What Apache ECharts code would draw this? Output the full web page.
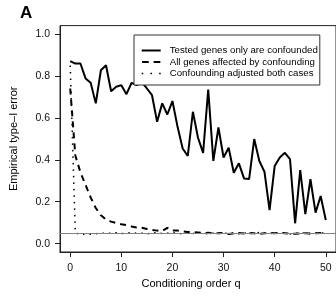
<!DOCTYPE html>
<html>
<head>
<meta charset="utf-8">
<script src="https://cdn.jsdelivr.net/npm/echarts@6/dist/echarts.min.js"></script>
<style>html,body{margin:0;padding:0;background:#fff;}#c{width:336px;height:299px;}</style>
</head>
<body>
<div id="c"></div>
<script>
var qValues = [0,1,2,3,4,5,6,7,8,9,10,11,12,13,14,15,16,17,18,19,20,21,22,23,24,25,26,27,28,29,30,31,32,33,34,35,36,37,38,39,40,41,42,43,44,45,46,47,48,49,50];
var testedOnly = [0.871,0.859,0.859,0.788,0.767,0.669,0.827,0.851,0.727,0.748,0.756,0.713,0.767,0.756,0.77,0.74,0.708,0.581,0.669,0.616,0.68,0.557,0.454,0.418,0.629,0.505,0.433,0.735,0.395,0.554,0.411,0.457,0.338,0.383,0.311,0.308,0.499,0.394,0.343,0.160,0.370,0.411,0.433,0.403,0.097,0.351,0.141,0.307,0.148,0.227,0.113];
var allGenes = [0.74,0.42,0.34,0.28,0.22,0.17,0.135,0.115,0.105,0.098,0.092,0.088,0.082,0.077,0.076,0.07,0.065,0.062,0.06,0.075,0.062,0.062,0.058,0.055,0.055,0.053,0.05,0.052,0.048,0.05,0.051,0.046,0.049,0.051,0.048,0.05,0.049,0.047,0.049,0.051,0.05,0.052,0.05,0.048,0.047,0.049,0.05,0.048,0.05,0.051,0.049];
var adjusted = [0.85,0.05,0.045,0.044,0.045,0.047,0.05,0.049,0.05,0.052,0.048,0.05,0.052,0.049,0.05,0.047,0.051,0.053,0.048,0.05,0.052,0.049,0.047,0.05,0.048,0.051,0.049,0.047,0.05,0.052,0.048,0.051,0.05,0.047,0.049,0.052,0.05,0.053,0.049,0.05,0.047,0.051,0.049,0.046,0.05,0.048,0.052,0.047,0.049,0.051,0.05];
var seriesNames = ['Tested genes only are confounded','All genes affected by confounding','Confounding adjusted both cases'];
var xTicks = [0,10,20,30,40,50];
var yTicks = [0,0.2,0.4,0.6,0.8,1.0];
var nominalLevel = 0.05;

function pairs(vals){ return qValues.map(function(q,i){ return [q, vals[i]]; }); }

var legendIcons = [
  'path://M0,0h19v2h-19z',
  'path://M0,0h6.7v2h-6.7zM11.6,0h6.7v2h-6.7z',
  'path://M0,0h1.5v1.5h-1.5zM8.5,0h1.5v1.5h-1.5zM17,0h1.5v1.5h-1.5z'
];

var chart = echarts.init(document.getElementById('c'), null, {renderer:'canvas'});
var font = 'Liberation Sans, Arial, sans-serif';
chart.setOption({
  animation: false,
  title: {text:'A', left: 20, top: 5, padding: 0, textStyle:{fontFamily:font, fontWeight:'bold', fontSize:17, color:'#000'}},
  grid: {left: 54.4, top: 25.6, right: -3.6, bottom: 47, show: true, borderColor:'#222', borderWidth:1, backgroundColor:'transparent'},
  legend: {
    orient:'vertical', left: 134, top: 35,
    padding:[10, 2, 6, 7.7], itemGap: 0.5, itemWidth: 19, itemHeight: 2,
    borderColor:'#333', borderWidth:1, backgroundColor:'#fff', borderRadius:0,
    itemStyle:{color:'#000', borderWidth:0},
    textStyle:{fontFamily:font, fontSize:9.7, color:'#000', padding:[0,0,0,4], lineHeight:11},
    data: seriesNames.map(function(n,i){ return {name:n, icon:legendIcons[i]}; })
  },
  xAxis: {
    type:'value', min:-2, max:52,
    name:'Conditioning order q', nameLocation:'middle', nameGap: 26,
    nameTextStyle:{fontFamily:font, fontSize:11, color:'#000', padding:[0,14,0,0]},
    axisLine:{show:true, onZero:false, lineStyle:{color:'#222', width:1}},
    axisTick:{show:true, length:5, customValues:xTicks, lineStyle:{color:'#222'}},
    axisLabel:{customValues:xTicks, margin:11, fontFamily:font, fontSize:10.5, color:'#111'},
    splitLine:{show:false}
  },
  yAxis: {
    type:'value', min:-0.04, max:1.04,
    name:'Empirical type\u2013I error', nameLocation:'middle', nameGap: 41,
    nameTextStyle:{fontFamily:font, fontSize:11, color:'#000'},
    axisLine:{show:true, onZero:false, lineStyle:{color:'#222', width:1}},
    axisTick:{show:true, length:5, customValues:yTicks, lineStyle:{color:'#222'}},
    axisLabel:{customValues:yTicks, margin:10, fontFamily:font, fontSize:10.5, color:'#111',
      formatter:function(v){ return v.toFixed(1); }},
    splitLine:{show:false}
  },
  series: [
    {name:seriesNames[0], type:'line', data:pairs(testedOnly), symbol:'none', color:'#000',
      lineStyle:{color:'#000', width:2}, z:3,
      markLine:{silent:true, symbol:'none', label:{show:false},
        lineStyle:{color:'#808080', width:1.2, type:'solid'}, data:[{yAxis:nominalLevel}]}},
    {name:seriesNames[1], type:'line', data:pairs(allGenes), symbol:'none', color:'#000',
      lineStyle:{color:'#000', width:2, type:[6,5]}},
    {name:seriesNames[2], type:'line', data:pairs(adjusted), symbol:'none', color:'#000',
      lineStyle:{color:'#000', width:1.5, type:[1.5,5]}}
  ]
});
</script>
</body>
</html>
